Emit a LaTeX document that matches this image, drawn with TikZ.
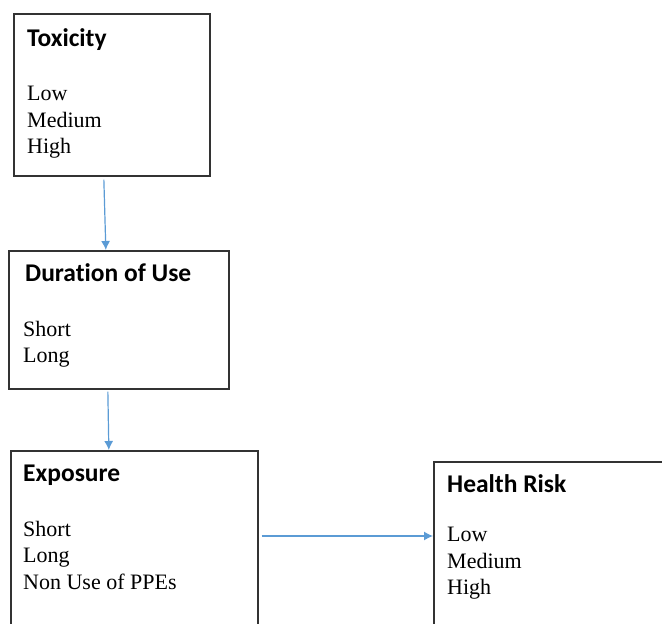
\documentclass[tikz,border=0pt]{standalone}
\usepackage{fontspec}
\setmainfont{Liberation Serif}
\newfontfamily\headfont{Carlito}[Ligatures=NoCommon]
\usetikzlibrary{positioning,arrows.meta}
\definecolor{arrowblue}{HTML}{5B9BD5}
\tikzset{
  box/.style 2 args={draw=black!80, line width=1.7pt, minimum width=#1pt,
    minimum height=#2pt, inner sep=0pt, anchor=north west},
  head/.style={inner sep=0pt, anchor=base west,
    font=\headfont\bfseries\fontsize{25.5}{29}\selectfont},
  items/.style={inner sep=0pt, anchor=north west, align=left,
    font=\fontsize{22}{26.5}\selectfont},
  link/.style={draw=arrowblue, line width=1.2pt, -{Latex[length=9pt,width=9pt]}}
}

\begin{document}
\begin{tikzpicture}[x=1pt,y=-1pt]
            \useasboundingbox (0,0) rectangle (662,624);
            \clip (0,0) rectangle (662,624);

            % the four boxes
            \node[box={196}{162}] (tox) at (13,13) {};
            \node[box={220}{138}] (dur) at (8,250) {};
            \node[box={247}{190}] (exp) at (10,450) {};
            \node[box={250}{190}] (risk) at (433,461) {};

            % headings and their levels
            \node[head] (toxH) at ([shift={(14,33)}]tox.north west) {Toxicity};
            \node[items] (toxL) at ([shift={(14,73)}]tox.north west) {Low\\Medium\\High};

            \node[head] (durH) at ([shift={(17,31)}]dur.north west) {Duration of Use};
            \node[items] (durL) at ([shift={(15,71)}]dur.north west) {Short\\Long};

            \node[head] (expH) at ([shift={(13,31)}]exp.north west) {Exposure};
            \node[items] (expL) at ([shift={(13,71)}]exp.north west) {Short\\Long\\Non Use of PPEs};

            \node[head] (riskH) at ([shift={(14,31)}]risk.north west) {Health Risk};
            \node[items] (riskL) at ([shift={(14,66)}]risk.north west) {Low\\Medium\\High};

            % connectors
            \draw[link] ([shift={(-8,3)}]tox.south) -- ([shift={(-13,0)}]dur.north);
            \draw[link] ([shift={(-11,2)}]dur.south) -- ([shift={(-25.5,0)}]exp.north);
            \draw[link] ([shift={(3,86)}]exp.north east) -- ([shift={(0,75)}]risk.north west);
\end{tikzpicture}
\end{document}
